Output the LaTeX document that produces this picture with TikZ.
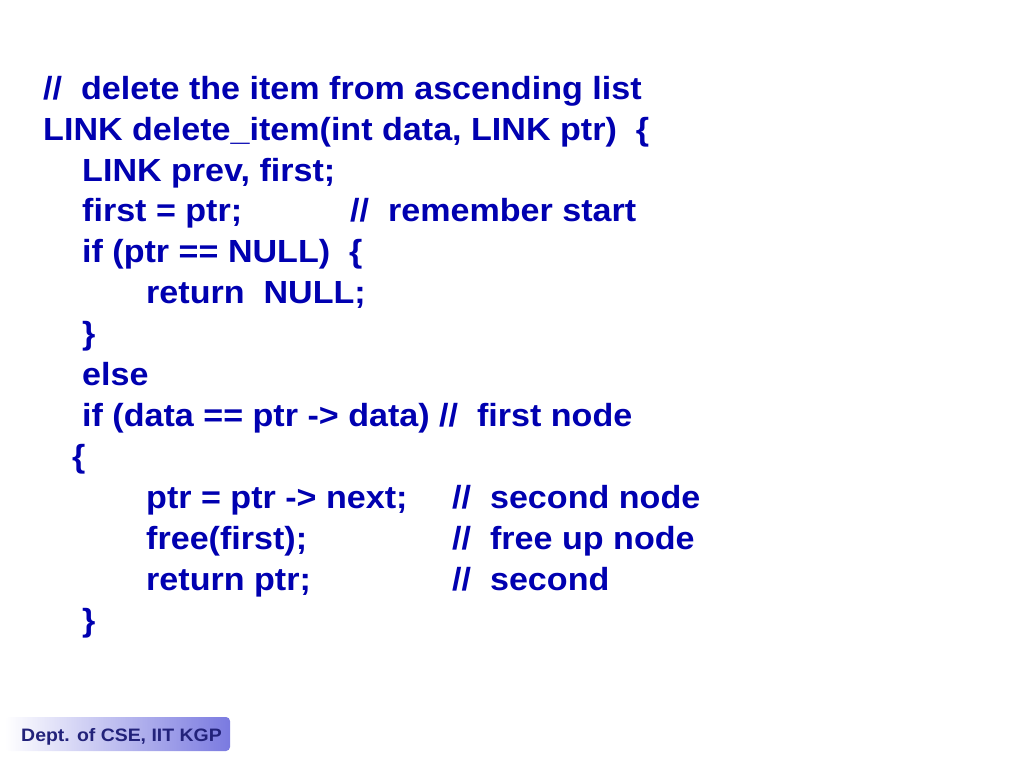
\documentclass[tikz,border=0pt]{standalone}
\usepackage{fontspec}
\setmainfont{Liberation Sans}
\definecolor{codeblue}{HTML}{0000B0}
\definecolor{footnavy}{HTML}{22227A}
\definecolor{footfill}{HTML}{7A7AE0}
\begin{document}
\begin{tikzpicture}[x=1pt,y=-1pt,
  code/.style={anchor=base west,inner sep=0pt,xscale=1.065,transform shape,font=\fontsize{32}{36}\selectfont\bfseries,text=codeblue}]
\useasboundingbox (0,0) rectangle (1024,768);
\node[code] (l1) at (43,99) {//\ \ delete the item from ascending list};
\node[code] (l2) at (43,140) {LINK delete\_item(int data, LINK ptr)\ \ \{};
\node[code] (l3) at (82,181) {LINK prev, first;};
\node[code] (l4) at (82,221) {first = ptr;};
\node[code] (l4c) at (350,221) {//\ \ remember start};
\node[code] (l5) at (82,262) {if (ptr == NULL)\ \ \{};
\node[code] (l6) at (146,303) {return\ \ NULL;};
\node[code] (l7) at (82,344) {\}};
\node[code] (l8) at (82,385) {else};
\node[code] (l9) at (82,426) {if (data == ptr -> data) //\ \ first node};
\node[code] (l10) at (72,467) {\{};
\node[code] (l11) at (146,508) {ptr = ptr -> next;};
\node[code] (l11c) at (452,508) {//\ \ second node};
\node[code] (l12) at (146,549) {free(first);};
\node[code] (l12c) at (452,549) {//\ \ free up node};
\node[code] (l13) at (146,590) {return ptr;};
\node[code] (l13c) at (452,590) {//\ \ second};
\node[code] (l14) at (82,631) {\}};
\shade[left color=white,right color=footfill,rounded corners=4pt] (5,717) rectangle (230,751);
\node[anchor=base west,inner sep=0pt,xscale=1.08,transform shape,font=\fontsize{18}{20}\selectfont\bfseries,text=footnavy] (foot) at (21,741) {Dept. of CSE, IIT KGP};
\end{tikzpicture}
\end{document}
